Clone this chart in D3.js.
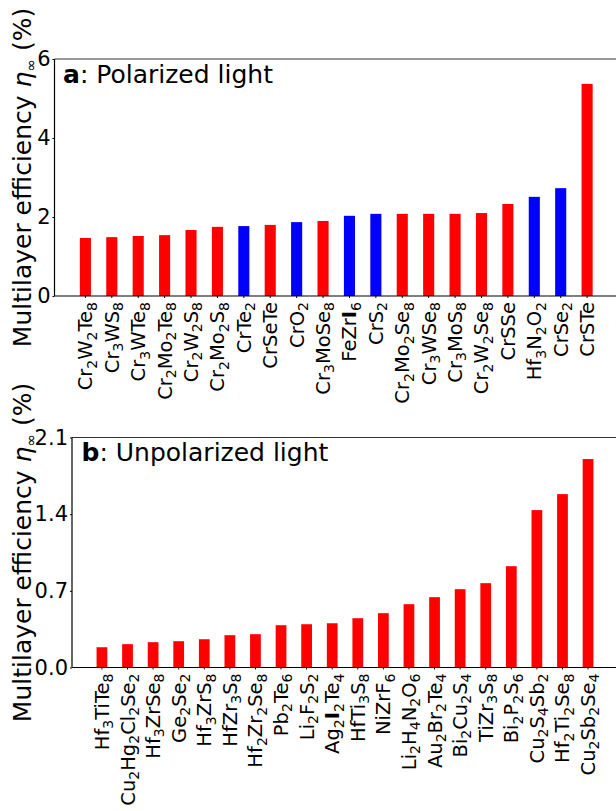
<!DOCTYPE html>
<html>
<head>
<meta charset="utf-8">
<script src="https://cdn.jsdelivr.net/npm/d3@7"></script>
<style>
  body { margin: 0; background: #fff; }
  svg { font-family: "DejaVu Sans", sans-serif; }
</style>
</head>
<body>
<svg id="chart" width="616" height="811"></svg>
<script>
// Panel a: polarized light
const namesA = ['Cr2W2Te8', 'Cr3WS8', 'Cr3WTe8', 'Cr2Mo2Te8', 'Cr2W2S8', 'Cr2Mo2S8', 'CrTe2', 'CrSeTe',
  'CrO2', 'Cr3MoSe8', 'FeZrI6', 'CrS2', 'Cr2Mo2Se8', 'Cr3WSe8', 'Cr3MoS8', 'Cr2W2Se8', 'CrSSe',
  'Hf3N2O2', 'CrSe2', 'CrSTe'];
const valuesA = [1.47, 1.49, 1.52, 1.54, 1.67, 1.75, 1.77, 1.80, 1.87, 1.90, 2.03, 2.08, 2.08, 2.08,
  2.08, 2.10, 2.33, 2.51, 2.73, 5.37];
// 'r' = red bar, 'b' = blue bar
const kindsA = ['r', 'r', 'r', 'r', 'r', 'r', 'b', 'r', 'b', 'r', 'b', 'b', 'r', 'r', 'r', 'r', 'r', 'b', 'b', 'r'];
const ticksA = [0, 2, 4, 6];

// Panel b: unpolarized light
const namesB = ['Hf3TiTe8', 'Cu2Hg2Cl2Se2', 'Hf3ZrSe8', 'Ge2Se2', 'Hf3ZrS8', 'HfZr3S8', 'Hf2Zr2Se8',
  'Pb2Te6', 'Li2F2S2', 'Ag2I2Te4', 'HfTi3S8', 'NiZrF6', 'Li2H4N2O6', 'Au2Br2Te4', 'Bi2Cu2S4',
  'TiZr3S8', 'Bi2P2S6', 'Cu2S4Sb2', 'Hf2Ti2Se8', 'Cu2Sb2Se4'];
const valuesB = [0.185, 0.213, 0.231, 0.240, 0.258, 0.295, 0.304, 0.386, 0.395, 0.404, 0.45, 0.496,
  0.578, 0.642, 0.715, 0.77, 0.925, 1.437, 1.583, 1.903];
const kindsB = namesB.map(() => 'r');
const ticksB = [0, 0.7, 1.4, 2.1];

const colors = { r: '#ff0000', b: '#0000ff' };
const svg = d3.select('#chart');

// write a formula with every digit as subscript
function formula(sel, name, size) {
  let sub = false;
  for (const ch of name) {
    const isDigit = /[0-9]/.test(ch);
    const t = sel.append('tspan').text(ch);
    if (isDigit) {
      t.style('font-size', (size * 0.72) + 'px');
      if (!sub) t.attr('dy', size * 0.22);
      sub = true;
    } else {
      if (sub) t.attr('dy', -size * 0.22);
      if (ch === 'I') t.style('font-weight', 'bold');
      sub = false;
    }
  }
}

function panel(o) {
  const g = svg.append('g');
  const x = d3.scaleLinear().domain([-1.17, 20.17]).range([o.left, 618]);
  const y = d3.scaleLinear().domain([0, o.max]).range([o.bottom, o.top]);
  const bw = x(0.42) - x(0);

  g.selectAll('rect')
    .data(o.values)
    .enter().append('rect')
      .attr('x', (d, i) => x(i) - bw / 2)
      .attr('y', d => y(d))
      .attr('width', bw)
      .attr('height', d => y(0) - y(d))
      .attr('fill', (d, i) => colors[o.kinds[i]]);

  // y axis
  const ya = g.append('g')
      .attr('transform', `translate(${o.left},0)`)
      .call(d3.axisLeft(y).tickValues(o.ticks).tickFormat(o.fmt).tickSize(2).tickPadding(2));
  ya.select('.domain').remove();
  ya.selectAll('text').style('font-size', '21px').style('fill', '#000')
    .attr('font-family', '"DejaVu Sans", sans-serif');

  // x axis ticks + formula labels
  const xa = g.append('g');
  xa.selectAll('line')
    .data(o.names)
    .enter().append('line')
      .attr('x1', (d, i) => x(i)).attr('x2', (d, i) => x(i))
      .attr('y1', o.bottom).attr('y2', o.bottom + 2)
      .attr('stroke', '#000');
  xa.selectAll('text')
    .data(o.names)
    .enter().append('text')
      .attr('transform', (d, i) => `translate(${x(i) + 7},${o.bottom + 6}) rotate(-90)`)
      .attr('text-anchor', 'end')
      .style('font-size', '19.5px')
      .each(function(d) { formula(d3.select(this), d, 19.5); });

  // frame
  g.append('line').attr('x1', o.left).attr('x2', 616).attr('y1', o.top).attr('y2', o.top)
    .attr('stroke', '#333').attr('stroke-width', 1.2);
  g.append('line').attr('x1', o.left).attr('x2', 616).attr('y1', o.bottom).attr('y2', o.bottom)
    .attr('stroke', '#000').attr('stroke-width', 1.2);
  g.append('line').attr('x1', o.left).attr('x2', o.left).attr('y1', o.top).attr('y2', o.bottom)
    .attr('stroke', '#000').attr('stroke-width', 1.2);

  // panel title
  const tt = g.append('text')
      .attr('x', o.titleX).attr('y', o.titleY)
      .style('font-size', '25px');
  tt.append('tspan').style('font-weight', 'bold').text(o.letter);
  tt.append('tspan').text(': ' + o.title);

  // y label
  const yl = g.append('text')
      .attr('transform', `translate(31,${(o.top + o.bottom) / 2}) rotate(-90)`)
      .attr('text-anchor', 'middle')
      .style('font-size', '25px');
  yl.append('tspan').text('Multilayer efficiency ');
  yl.append('tspan').style('font-style', 'italic').text('η');
  yl.append('tspan').style('font-size', '15px').attr('dy', 5).text('∞');
  yl.append('tspan').attr('dy', -5).text(' (%)');
}

panel({
  names: namesA, values: valuesA, kinds: kindsA, ticks: ticksA, max: 6,
  fmt: d3.format('d'), left: 54.5, top: 59, bottom: 296,
  letter: 'a', title: 'Polarized light', titleX: 63, titleY: 83
});

panel({
  names: namesB, values: valuesB, kinds: kindsB, ticks: ticksB, max: 2.1,
  fmt: d3.format('.1f'), left: 72, top: 437.5, bottom: 667.5,
  letter: 'b', title: 'Unpolarized light', titleX: 81.5, titleY: 461
});
</script>
</body>
</html>
